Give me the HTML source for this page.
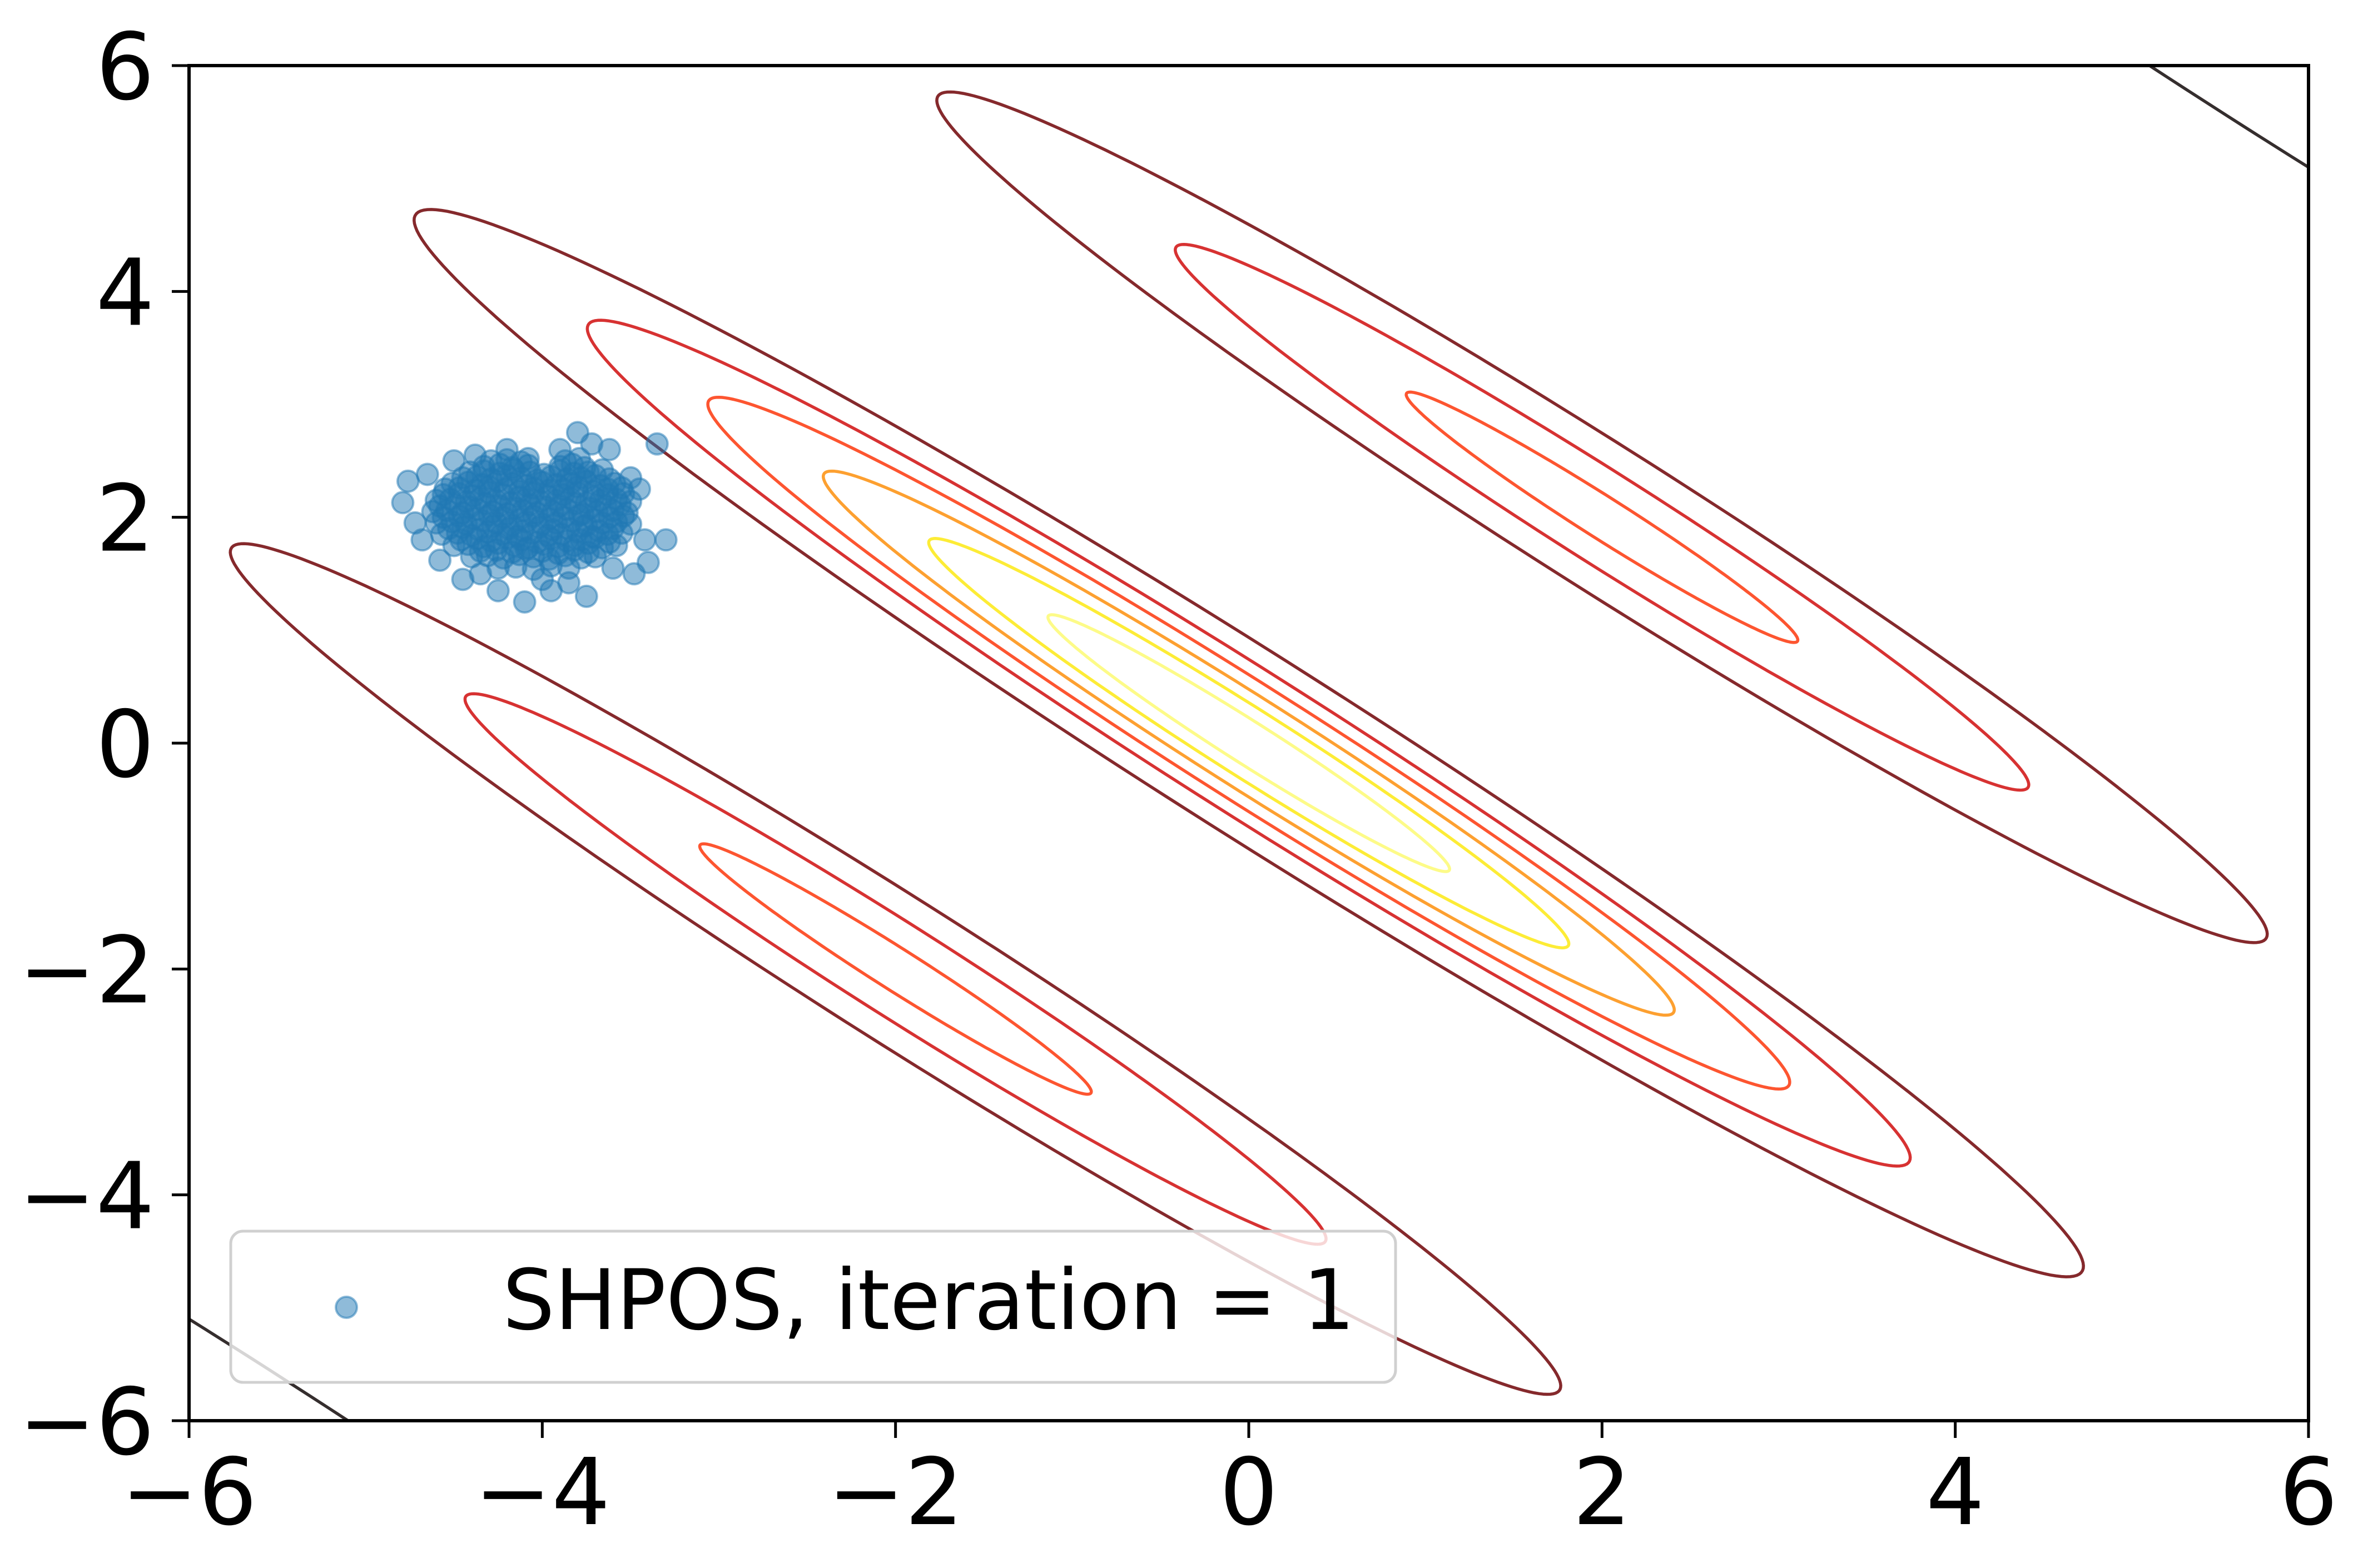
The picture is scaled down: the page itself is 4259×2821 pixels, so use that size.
<!DOCTYPE html>
<html><head><meta charset="utf-8">
<style>
html,body{margin:0;padding:0;background:#fff;width:4259px;height:2821px;overflow:hidden;}
svg{display:block;font-family:"DejaVu Sans","Liberation Sans",sans-serif;}
</style></head>
<body>
<svg id="chart" xmlns="http://www.w3.org/2000/svg" width="4259" height="2821" viewBox="0 0 4259 2821">
  <defs><clipPath id="plotclip"><rect x="340" y="118" width="3812" height="2438"/></clipPath></defs>
  <rect x="0" y="0" width="4259" height="2821" fill="#fff"/>
  <g id="contours" clip-path="url(#plotclip)"></g>
  <g id="points" clip-path="url(#plotclip)"></g>
  <g id="axes"></g>
  <g id="legend"></g>
</svg>
<script>
// ---- data ----
const xTicks = [-6, -4, -2, 0, 2, 4, 6];
const yTicks = [-6, -4, -2, 0, 2, 4, 6];
const tickLabels = ["\u22126", "\u22124", "\u22122", "0", "2", "4", "6"];
const compCX = [0, 0, 0, 0, 0, 0, 2, 2, 2, -2, -2, -2, 6, -6];
const compCY = [0, 0, 0, 0, 0, 0, 2, 2, 2, -2, -2, -2, 6, -6];
const compA  = [6.65, 5.27, 4.31, 3.39, 2.55, 1.6, 5.3, 3.4, 1.56, 5.3, 3.43, 1.56, 6.4, 6.4];
const compLevel = [1, 2, 3, 4, 5, 6, 1, 2, 3, 1, 2, 3, 0, 0];
const axisRatio = 0.1;
const levelColors = ["#352e2e", "#85292c", "#d73232", "#fd5530", "#fda030", "#fdec36", "#fdfb88"];
const ptsX = [
-4.33,-4.24,-4.17,-4.08,-3.9,-3.83,-3.76,
-4.45,-4.37,-4.29,-4.2,-4.12,-4.03,-3.95,-3.86,-3.78,-3.7,-3.62,
-4.55,-4.47,-4.38,-4.3,-4.21,-4.13,-4.05,-3.96,-3.88,-3.8,-3.71,-3.63,-3.55,
-4.6,-4.52,-4.43,-4.35,-4.26,-4.18,-4.09,-4.01,-3.92,-3.84,-3.75,-3.67,-3.58,-3.5,
-4.62,-4.54,-4.45,-4.37,-4.28,-4.2,-4.11,-4.03,-3.94,-3.86,-3.77,-3.69,-3.6,-3.52,
-4.6,-4.51,-4.43,-4.34,-4.26,-4.17,-4.09,-4.0,-3.92,-3.83,-3.75,-3.66,-3.58,-3.5,
-4.57,-4.48,-4.4,-4.31,-4.23,-4.14,-4.06,-3.97,-3.89,-3.8,-3.72,-3.63,-3.55,
-4.5,-4.42,-4.33,-4.25,-4.16,-4.08,-3.99,-3.91,-3.82,-3.74,-3.66,-3.58,
-4.4,-4.31,-4.22,-4.13,-4.05,-3.96,-3.87,-3.78,-3.7,
-4.25,-4.15,-4.05,-3.95,-3.85,
-4.29,-4.2,-4.12,-3.87,-3.79,
-4.41,-4.33,-4.24,-4.16,-4.07,-3.99,-3.9,-3.82,-3.74,-3.66,
-4.51,-4.42,-4.34,-4.25,-4.17,-4.09,-4.0,-3.92,-3.84,-3.75,-3.67,-3.59,
-4.56,-4.47,-4.39,-4.3,-4.22,-4.13,-4.05,-3.97,-3.88,-3.8,-3.71,-3.63,-3.54,
-4.58,-4.49,-4.41,-4.32,-4.24,-4.15,-4.07,-3.98,-3.9,-3.81,-3.73,-3.64,-3.56,
-4.56,-4.47,-4.39,-4.3,-4.22,-4.13,-4.05,-3.96,-3.88,-3.79,-3.71,-3.62,-3.54,
-4.53,-4.45,-4.36,-4.28,-4.19,-4.11,-4.02,-3.94,-3.85,-3.77,-3.68,-3.6,
-4.46,-4.37,-4.29,-4.2,-4.12,-4.03,-3.95,-3.86,-3.78,-3.7,-3.62,
-4.35,-4.26,-4.17,-4.09,-4.0,-3.91,-3.82,-3.74,
-4.79,-4.76,-4.65,-4.5,-4.38,-4.2,-4.08,-3.9,-3.8,-3.72,-3.62,-3.35,-3.5,-3.45,-3.42,-3.3,-3.4,-3.48,-3.6,-3.75,-3.95,-4.1,-4.25,-4.45,-4.58,-4.68,-4.72,-4.0,-3.85,-4.35];
const ptsY = [
2.45,2.47,2.44,2.46,2.45,2.47,2.44,
2.35,2.36,2.34,2.37,2.35,2.33,2.36,2.34,2.35,2.37,2.34,
2.25,2.26,2.24,2.27,2.25,2.23,2.26,2.24,2.25,2.27,2.23,2.25,2.26,
2.15,2.16,2.14,2.17,2.15,2.13,2.16,2.14,2.15,2.17,2.13,2.15,2.16,2.14,
2.05,2.06,2.04,2.07,2.05,2.03,2.06,2.04,2.05,2.07,2.03,2.05,2.06,2.04,
1.95,1.96,1.94,1.97,1.95,1.93,1.96,1.94,1.95,1.97,1.93,1.95,1.96,1.94,
1.85,1.86,1.84,1.87,1.85,1.83,1.86,1.84,1.85,1.87,1.83,1.85,1.86,
1.75,1.76,1.74,1.77,1.75,1.73,1.76,1.74,1.75,1.77,1.73,1.75,
1.65,1.66,1.64,1.67,1.65,1.63,1.66,1.64,1.65,
1.55,1.56,1.54,1.57,1.55,
2.5,2.51,2.49,2.5,2.52,
2.4,2.41,2.39,2.42,2.4,2.38,2.41,2.39,2.4,2.42,
2.3,2.31,2.29,2.32,2.3,2.28,2.31,2.29,2.3,2.32,2.28,2.3,
2.2,2.21,2.19,2.22,2.2,2.18,2.21,2.19,2.2,2.22,2.18,2.2,2.21,
2.1,2.11,2.09,2.12,2.1,2.08,2.11,2.09,2.1,2.12,2.08,2.1,2.11,
2.0,2.01,1.99,2.02,2.0,1.98,2.01,1.99,2.0,2.02,1.98,2.0,2.01,
1.9,1.91,1.89,1.92,1.9,1.88,1.91,1.89,1.9,1.92,1.88,1.9,
1.8,1.81,1.79,1.82,1.8,1.78,1.81,1.79,1.8,1.82,1.78,
1.7,1.71,1.69,1.72,1.7,1.68,1.71,1.69,
2.13,2.32,2.38,2.5,2.55,2.6,2.52,2.6,2.75,2.65,2.6,2.65,2.35,2.25,1.8,1.8,1.6,1.5,1.55,1.3,1.35,1.25,1.35,1.45,1.62,1.8,1.95,1.45,1.42,1.5];

// ---- axis functions ----
const PX0 = 340, PX1 = 4152, PY0 = 118, PY1 = 2556;
const X = v => PX0 + (v + 6) / 12 * (PX1 - PX0);
const Y = v => PY0 + (6 - v) / 12 * (PY1 - PY0);
const NS = "http://www.w3.org/2000/svg";
function mk(tag, attrs, parent) { const e = document.createElementNS(NS, tag); for (const k in attrs) e.setAttribute(k, attrs[k]); parent.appendChild(e); return e; }

const cg = document.getElementById('contours');
for (let i = 0; i < compCX.length; i++) {
  const a = compA[i], b = a * axisRatio, pts = [];
  for (let k = 0; k <= 240; k++) {
    const t = k / 240 * 2 * Math.PI;
    const u = a * Math.cos(t), v = b * Math.sin(t);
    const x = compCX[i] + (u + v) / Math.SQRT2, y = compCY[i] + (v - u) / Math.SQRT2;
    pts.push(X(x).toFixed(1) + "," + Y(y).toFixed(1));
  }
  const el = mk('polygon', {points: pts.join(' '), fill: 'none', stroke: levelColors[compLevel[i]], 'stroke-width': 5.5, 'stroke-linejoin': 'round'}, cg);
  
  
}

const pg = document.getElementById('points');
for (let i = 0; i < ptsX.length; i++) {
  const c = mk('circle', {cx: X(ptsX[i]).toFixed(1), cy: Y(ptsY[i]).toFixed(1), r: 19, fill: '#1f77b4', 'fill-opacity': 0.5, stroke: '#1f77b4', 'stroke-opacity': 0.5, 'stroke-width': 4}, pg);
  
  
}

const ag = document.getElementById('axes');
const frame = mk('rect', {x: PX0, y: PY0, width: PX1 - PX0, height: PY1 - PY0, fill: 'none', stroke: '#000', 'stroke-width': 6}, ag);


for (let i = 0; i < xTicks.length; i++) {
  const x = X(xTicks[i]);
  const t = mk('line', {x1: x, y1: PY1, x2: x, y2: PY1 + 31, stroke: '#000', 'stroke-width': 5}, ag);
  
  
  const l = mk('text', {x: x, y: 2742, 'font-size': 166, 'text-anchor': 'middle', fill: '#000'}, ag);
  l.textContent = tickLabels[i];
  
  
}
for (let i = 0; i < yTicks.length; i++) {
  const y = Y(yTicks[i]);
  const t = mk('line', {x1: PX0 - 31, y1: y, x2: PX0, y2: y, stroke: '#000', 'stroke-width': 5}, ag);
  
  
  const l = mk('text', {x: 278, y: y + 60, 'font-size': 166, 'text-anchor': 'end', fill: '#000'}, ag);
  l.textContent = tickLabels[i];
  
  
}

const lg = document.getElementById('legend');
const box = mk('rect', {x: 415, y: 2215, width: 2095, height: 272, rx: 22, ry: 22, fill: '#fff', 'fill-opacity': 0.8, stroke: '#d0d0d0', 'stroke-width': 5}, lg);


const lm = mk('circle', {cx: 623, cy: 2352, r: 19, fill: '#1f77b4', 'fill-opacity': 0.5, stroke: '#1f77b4', 'stroke-opacity': 0.5, 'stroke-width': 4}, lg);


const lt = mk('text', {x: 904, y: 2391, 'font-size': 150, fill: '#000', textLength: 1533, lengthAdjust: 'spacingAndGlyphs'}, lg);
lt.textContent = "SHPOS, iteration = 1";


</script>
</body></html>
